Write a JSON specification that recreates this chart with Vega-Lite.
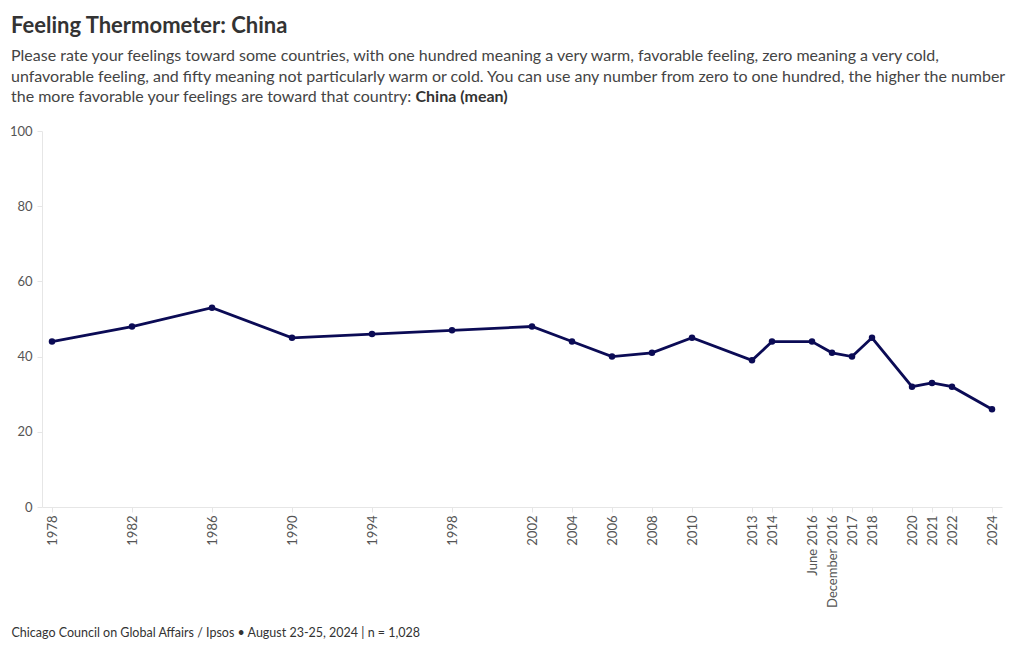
{
  "$schema": "https://vega.github.io/schema/vega-lite/v6.json",
  "width": 960,
  "height": 376,
  "autosize": {"type": "none"},
  "padding": {"left": 42, "top": 131, "right": 18, "bottom": 143},
  "background": "white",
  "config": {
    "font": "Lato",
    "view": {"stroke": null}
  },
  "title": {
    "text": "Feeling Thermometer: China",
    "subtitle": [
      "Please rate your feelings toward some countries, with one hundred meaning a very warm, favorable feeling, zero meaning a very cold,",
      "unfavorable feeling, and fifty meaning not particularly warm or cold.  You can use any number from zero to one hundred, the higher the number",
      "the more favorable your feelings are toward that country:"
    ],
    "anchor": "start",
    "frame": "group",
    "dx": -31,
    "offset": -18,
    "font": "Lato",
    "fontSize": 22,
    "fontWeight": "bold",
    "color": "#333333",
    "subtitleFont": "Lato",
    "subtitleFontSize": 16,
    "subtitleColor": "#444444",
    "subtitleLineHeight": 20.5,
    "subtitlePadding": 10
  },
  "data": {
    "values": [
      {"wave": "1978", "slot": 1978, "mean": 44},
      {"wave": "1982", "slot": 1982, "mean": 48},
      {"wave": "1986", "slot": 1986, "mean": 53},
      {"wave": "1990", "slot": 1990, "mean": 45},
      {"wave": "1994", "slot": 1994, "mean": 46},
      {"wave": "1998", "slot": 1998, "mean": 47},
      {"wave": "2002", "slot": 2002, "mean": 48},
      {"wave": "2004", "slot": 2004, "mean": 44},
      {"wave": "2006", "slot": 2006, "mean": 40},
      {"wave": "2008", "slot": 2008, "mean": 41},
      {"wave": "2010", "slot": 2010, "mean": 45},
      {"wave": "2013", "slot": 2013, "mean": 39},
      {"wave": "2014", "slot": 2014, "mean": 44},
      {"wave": "June 2016", "slot": 2016, "mean": 44},
      {"wave": "December 2016", "slot": 2017, "mean": 41},
      {"wave": "2017", "slot": 2018, "mean": 40},
      {"wave": "2018", "slot": 2019, "mean": 45},
      {"wave": "2020", "slot": 2021, "mean": 32},
      {"wave": "2021", "slot": 2022, "mean": 33},
      {"wave": "2022", "slot": 2023, "mean": 32},
      {"wave": "2024", "slot": 2025, "mean": 26}
    ]
  },
  "mark": {
    "type": "line",
    "color": "#0b0b55",
    "strokeWidth": 2.8,
    "point": {"filled": true, "size": 42, "color": "#0b0b55"}
  },
  "encoding": {
    "x": {
      "field": "slot",
      "type": "quantitative",
      "scale": {"domain": [1977.5, 2025.5], "nice": false, "zero": false},
      "axis": {
        "values": [1978, 1982, 1986, 1990, 1994, 1998, 2002, 2004, 2006, 2008, 2010, 2013, 2014, 2016, 2017, 2018, 2019, 2021, 2022, 2023, 2025],
        "labelExpr": "datum.value <= 2014 ? '' + datum.value : datum.value == 2016 ? 'June 2016' : datum.value == 2017 ? 'December 2016' : '' + (datum.value - 1)",
        "labelAngle": -90,
        "labelAlign": "right",
        "labelBaseline": "middle",
        "labelFontSize": 13,
        "labelColor": "#555555",
        "labelPadding": 3,
        "labelOverlap": false,
        "labelFlush": false,
        "tickSize": 5,
        "tickColor": "#e6e6e6",
        "domainColor": "#e6e6e6",
        "grid": false,
        "title": "Chicago Council on Global Affairs / Ipsos • August 23-25, 2024 | n = 1,028",
        "titleX": -31,
        "titleY": 129,
        "titleAlign": "left",
        "titleAnchor": "start",
        "titleBaseline": "alphabetic",
        "titleFontSize": 12.5,
        "titleFontWeight": "normal",
        "titleColor": "#333333"
      }
    },
    "y": {
      "field": "mean",
      "type": "quantitative",
      "scale": {"domain": [0, 100], "nice": false},
      "axis": {
        "values": [0, 20, 40, 60, 80, 100],
        "labelFontSize": 13,
        "labelColor": "#555555",
        "labelPadding": 5,
        "tickSize": 5,
        "tickColor": "#e6e6e6",
        "domainColor": "#e6e6e6",
        "grid": false,
        "title": "China (mean)",
        "titleAngle": 0,
        "titleX": 373,
        "titleY": -30,
        "titleAlign": "left",
        "titleBaseline": "alphabetic",
        "titleFontSize": 16,
        "titleFontWeight": "bold",
        "titleColor": "#333333"
      }
    }
  }
}
